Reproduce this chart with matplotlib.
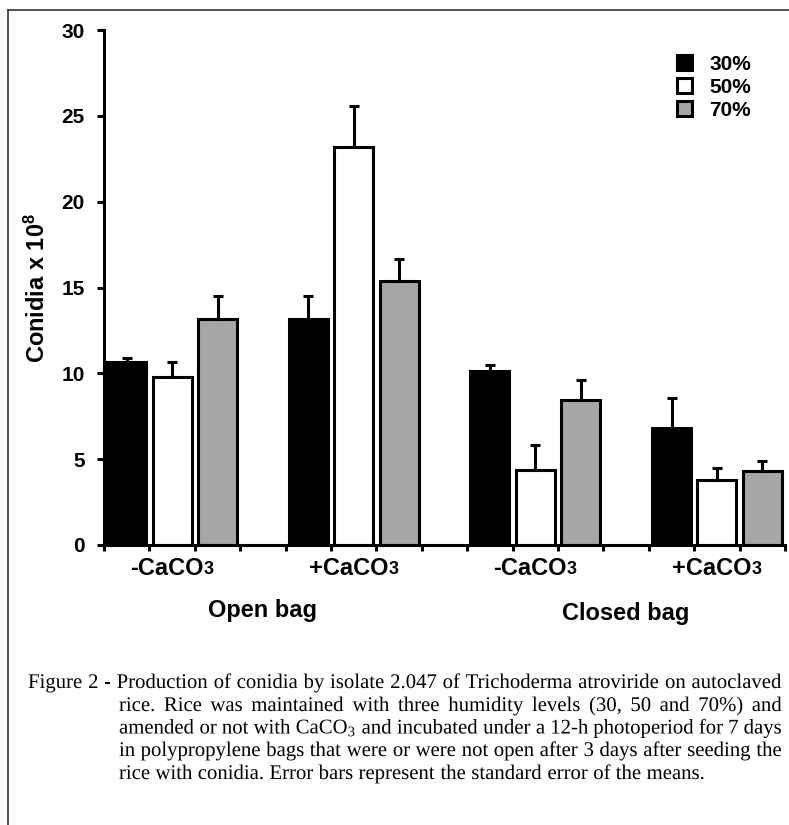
import numpy as np
import matplotlib
matplotlib.use("Agg")
import matplotlib.pyplot as plt
from matplotlib.lines import Line2D
from matplotlib.patheffects import AbstractPathEffect
from matplotlib.transforms import Affine2D

plt.rcParams['font.family'] = 'Liberation Sans'
plt.rcParams['mathtext.fontset'] = 'custom'
plt.rcParams['mathtext.default'] = 'regular'

# conidia x 10^8 (open -/+ CaCO3, closed -/+ CaCO3)
humidity = ["30%", "50%", "70%"]
group_labels = ["-CaCO", "+CaCO", "-CaCO", "+CaCO"]
bag_labels = ["Open bag", "Closed bag"]
conidia_30 = [10.65, 13.15, 10.15, 6.83]
conidia_50 = [9.77, 23.2, 4.37, 3.79]
conidia_70 = [13.15, 15.38, 8.44, 4.33]
sem_30 = [0.25, 1.35, 0.33, 1.75]
sem_50 = [0.9, 2.4, 1.45, 0.68]
sem_70 = [1.35, 1.26, 1.15, 0.56]

caption_lines = [
    "Figure 2 - Production of conidia by isolate 2.047 of Trichoderma atroviride on autoclaved",
    "rice. Rice was maintained with three humidity levels (30, 50 and 70%) and",
    "amended or not with CaCO$_3$ and incubated under a 12-h photoperiod for 7 days",
    "in polypropylene bags that were or were not open after 3 days after seeding the",
    "rice with conidia. Error bars represent the standard error of the means.",
]


class Squeeze(AbstractPathEffect):
    # narrow the glyphs horizontally (caption font in the original is condensed)
    def __init__(self, sx):
        super().__init__()
        self.sx = sx

    def draw_path(self, renderer, gc, tpath, affine, rgbFace=None):
        renderer.draw_path(gc, tpath, affine + Affine2D().scale(self.sx, 1), rgbFace)


W, H = 789, 825
fig = plt.figure(figsize=(W / 100, H / 100), dpi=100)
ax = fig.add_axes([104 / W, 1 - 545 / H, 681 / W, 515 / H])

colors = ["black", "white", "#a6a6a6"]
series = [(conidia_30, sem_30), (conidia_50, sem_50), (conidia_70, sem_70)]
handles = []
for i, (vals, err) in enumerate(series):
    x = np.arange(len(vals)) * 4 + i + 0.5
    b = ax.bar(x, vals, width=0.86, color=colors[i], edgecolor="black",
               linewidth=2.2, yerr=[np.zeros(len(err)), err],
               error_kw=dict(ecolor="black", elinewidth=2.2, capsize=3.5, capthick=2.2))
    handles.append(b)

ax.set_xlim(0, 15)
ax.set_ylim(0, 30)
ax.set_yticks(np.arange(0, 31, 5))
ax.set_xticks(np.arange(16))
ax.set_xticklabels([])
for s in ["top", "right"]:
    ax.spines[s].set_visible(False)
for s in ["left", "bottom"]:
    ax.spines[s].set_linewidth(2.2)
ax.tick_params(axis="y", length=5, width=2.2, pad=9, labelsize=15)
ax.tick_params(axis="x", length=4, width=2.2)
for lbl in ax.get_yticklabels():
    lbl.set_fontweight("bold")

ax.set_ylabel("Conidia x 10$^8$", fontsize=17, fontweight="bold")
ax.yaxis.set_label_coords(-0.08, 0.5)

leg = ax.legend(handles, humidity, loc="upper left", bbox_to_anchor=(0.841, 0.952),
                frameon=False, prop=dict(size=15, weight="bold"), borderpad=0,
                borderaxespad=0, handlelength=0.75, handleheight=0.75,
                handletextpad=0.8, labelspacing=0.2)

# frame around the figure (left and top only)
fig.add_artist(Line2D([8 / W, 8 / W], [0, 1 - 10 / H], color="#333333", lw=1.2))
fig.add_artist(Line2D([8 / W, 1], [1 - 10 / H, 1 - 10 / H], color="#333333", lw=1.2))

fig.canvas.draw()
r = fig.canvas.get_renderer()
inv = fig.transFigure.inverted()


def fig_xy(px, py_top):
    return inv.transform((px, H - py_top))


# group labels with a small "3"
for g, lab in enumerate(group_labels):
    cx = ax.transData.transform((4 * g + 1.5, 0))[0]
    t1 = fig.text(0, 0, lab, fontsize=17, fontweight="bold", va="baseline")
    t2 = fig.text(0, 0, "3", fontsize=13, fontweight="bold", va="baseline")
    w1 = t1.get_window_extent(r).width
    w2 = t2.get_window_extent(r).width
    x0 = cx - (w1 + w2) / 2
    t1.set_position(fig_xy(x0, 575))
    t2.set_position(fig_xy(x0 + w1, 574))

for k, lab in enumerate(bag_labels):
    cx = ax.transData.transform((8 * k + 3.5, 0))[0]
    fig.text(*inv.transform((cx, H - (617 + 3 * k))), lab, fontsize=17,
             fontweight="bold", ha="center", va="baseline")

# justified caption, hanging indent
cap_size = 15
left_edges = [28] + [119] * 4
right_edge = 782
baselines = [688, 711, 733.5, 756, 779]

probe = fig.text(0, 0, caption_lines[0], family="Liberation Serif", fontsize=cap_size)
sx = min(1.0, (right_edge - left_edges[0] - 6) / probe.get_window_extent(r).width)
probe.remove()
squeeze = Squeeze(sx)

space_w = 0.25 * cap_size * 100 / 72 * sx
for j, line in enumerate(caption_lines):
    words = line.split(" ")
    texts = [fig.text(0, 0, w, family="Liberation Serif", fontsize=cap_size,
                      va="baseline", path_effects=[squeeze]) for w in words]
    widths = [t.get_window_extent(r).width * sx for t in texts]
    if j < len(caption_lines) - 1:
        gap = (right_edge - left_edges[j] - sum(widths)) / (len(words) - 1)
    else:
        gap = space_w
    x = left_edges[j]
    for t, w in zip(texts, widths):
        # the squeeze scales about display x = 0, so place at x / sx
        t.set_position(fig_xy(x / sx, baselines[j]))
        x += w + gap

fig.savefig("out.png", dpi=100)
